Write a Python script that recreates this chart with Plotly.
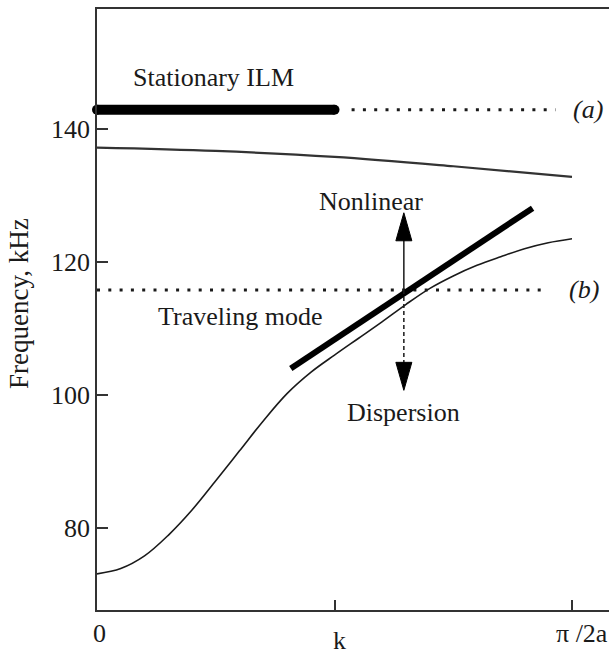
import plotly.graph_objects as go

# ---------------- data ----------------
k_lower = [0, 0.05, 0.1, 0.15, 0.2, 0.25, 0.3, 0.35, 0.4, 0.45, 0.5,
           0.55, 0.6, 0.65, 0.7, 0.75, 0.8, 0.85, 0.9, 0.95, 1.0]
f_lower = [73.1, 73.9, 75.8, 78.9, 82.7, 87.1, 91.6, 96.1, 100.2, 103.4, 106.0,
           108.5, 111.0, 113.6, 116.0, 117.9, 119.5, 120.8, 122.0, 122.9, 123.5]

k_upper = [0, 0.25, 0.5, 0.75, 1.0]
f_upper = [137.2, 136.7, 135.8, 134.4, 132.8]

k_ilm = [0, 0.5]
f_ilm = [142.9, 142.9]
k_dot_a = [0.536, 0.965]
f_dot_a = [142.9, 142.9]

k_dot_b = [0, 0.948]
f_dot_b = [115.8, 115.8]

k_nonlin = [0.408, 0.917]
f_nonlin = [104.0, 128.1]

arrow_k = 0.646
arrow_base = 115.8
arrow_up_tip = 127.4
arrow_down_tip = 100.7

y_ticks = [80, 100, 120, 140]
y_ticktext = ["80", "100", "120", "140"]
x_ticks = [0.5, 1.0]
x_labels = ["0", "π /2a"]
x_label_pos = [0.005, 1.02]
k_label = "k"
k_label_pos = 0.51

# ---------------- styling ----------------
FONT = "Liberation Serif"
INK = "#1a1a1a"
FS = 26
px_per_k = 475.0
px_per_f = 6.65
head_len = 28 / px_per_f
head_half = 8 / px_per_k
plot_h = 601.0

fig = go.Figure()

fig.add_trace(go.Scatter(x=k_lower, y=f_lower, mode="lines",
                         line=dict(color=INK, width=1.6, shape="spline")))
fig.add_trace(go.Scatter(x=k_upper, y=f_upper, mode="lines",
                         line=dict(color="#333333", width=2.2, shape="spline")))
fig.add_trace(go.Scatter(x=k_ilm, y=f_ilm, mode="lines+markers", cliponaxis=False,
                         line=dict(color="black", width=10),
                         marker=dict(size=10, color="black", line=dict(width=0))))
fig.add_trace(go.Scatter(x=k_dot_a, y=f_dot_a, mode="lines",
                         line=dict(color=INK, width=3, dash="3px,8.3px")))
fig.add_trace(go.Scatter(x=k_dot_b, y=f_dot_b, mode="lines",
                         line=dict(color=INK, width=3, dash="3px,8.3px")))
fig.add_trace(go.Scatter(x=k_nonlin, y=f_nonlin, mode="lines",
                         line=dict(color="black", width=6)))

# arrows
fig.add_trace(go.Scatter(x=[arrow_k, arrow_k], y=[arrow_base, arrow_up_tip - head_len * 0.8],
                         mode="lines", line=dict(color=INK, width=1.5)))
fig.add_trace(go.Scatter(x=[arrow_k - head_half, arrow_k, arrow_k + head_half, arrow_k - head_half],
                         y=[arrow_up_tip - head_len, arrow_up_tip, arrow_up_tip - head_len,
                            arrow_up_tip - head_len],
                         mode="lines", fill="toself", fillcolor="black",
                         line=dict(color="black", width=1)))
fig.add_trace(go.Scatter(x=[arrow_k, arrow_k], y=[arrow_base, arrow_down_tip + head_len * 0.8],
                         mode="lines", line=dict(color=INK, width=1.5, dash="4px,3px")))
fig.add_trace(go.Scatter(x=[arrow_k - head_half, arrow_k, arrow_k + head_half, arrow_k - head_half],
                         y=[arrow_down_tip + head_len, arrow_down_tip, arrow_down_tip + head_len,
                            arrow_down_tip + head_len],
                         mode="lines", fill="toself", fillcolor="black",
                         line=dict(color="black", width=1)))

def txt(x, y, s, italic=False, yref="y", yanchor="middle", **kw):
    fig.add_annotation(x=x, y=y, xref="x", yref=yref, text=(f"<i>{s}</i>" if italic else s),
                       showarrow=False, xanchor="center", yanchor=yanchor,
                       font=dict(family=FONT, size=FS, color=INK), **kw)

txt(0.245, 147.8, "Stationary ILM")
txt(1.034, 142.9, "(a)", italic=True)
txt(1.025, 115.8, "(b)", italic=True)
txt(0.576, 129.1, "Nonlinear")
txt(0.30, 111.8, "Traveling mode")
txt(0.646, 97.4, "Dispersion")

for lab, xp in zip(x_labels, x_label_pos):
    txt(xp, (610 - 633) / plot_h, lab, yref="paper")
txt(k_label_pos, (610 - 656) / plot_h, k_label, yref="paper", yanchor="bottom", borderpad=0)

fig.add_annotation(x=(19 - 97) / 512.0, y=(610 - 304) / plot_h, xref="paper", yref="paper",
                   text="Frequency, kHz", textangle=-90, showarrow=False,
                   xanchor="center", yanchor="middle",
                   font=dict(family=FONT, size=27, color=INK))

y_lo = 80 - (610 - 528) / px_per_f
y_hi = 140 + (129 - 9) / px_per_f
x_hi = (609 - 97) / px_per_k

fig.update_layout(
    width=609, height=657,
    margin=dict(l=97, r=0, t=9, b=47),
    paper_bgcolor="white", plot_bgcolor="white",
    showlegend=False,
    font=dict(family=FONT, size=FS, color=INK),
    xaxis=dict(range=[0, x_hi], showgrid=False, zeroline=False,
               showline=True, linecolor="#333333", linewidth=1.5, mirror=True,
               ticks="inside", tickvals=x_ticks, ticklen=10, tickwidth=1.5,
               tickcolor="#333333", showticklabels=False),
    yaxis=dict(range=[y_lo, y_hi], showgrid=False, zeroline=False,
               showline=True, linecolor="#333333", linewidth=1.5,
               ticks="inside", tickvals=y_ticks, ticktext=y_ticktext,
               ticklen=11, tickwidth=1.5, tickcolor="#333333",
               tickfont=dict(family=FONT, size=FS, color=INK)),
)

fig.write_html("out.html")
